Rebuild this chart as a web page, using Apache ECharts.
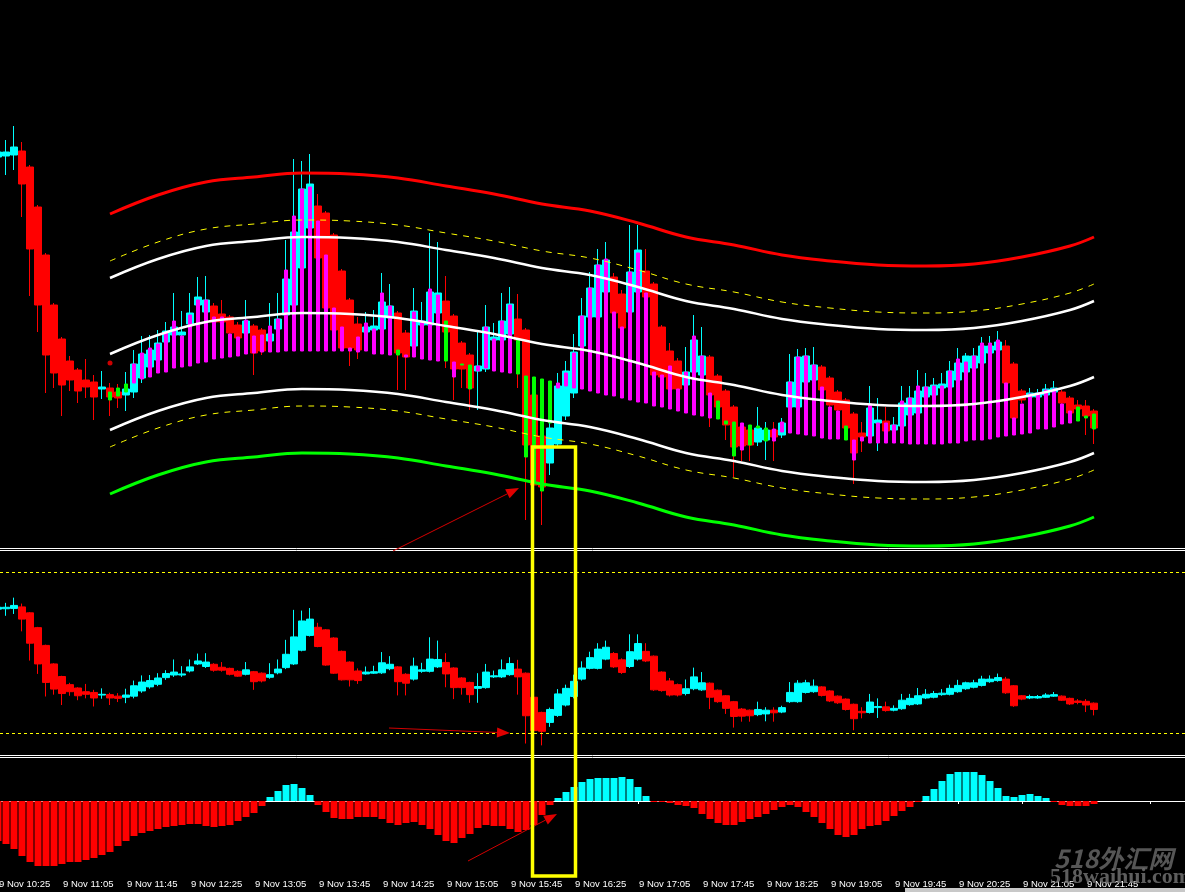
<!DOCTYPE html>
<html><head><meta charset="utf-8">
<script src="https://cdn.jsdelivr.net/npm/echarts/dist/echarts.min.js"></script>
<style>html,body{margin:0;padding:0;background:#000;overflow:hidden}#c{width:1185px;height:892px;}</style>
</head><body><div id="c"></div>
<script>
// ---------- DATA (price in points) ----------
const candleOpen  = [391,392,393,397,381,341,293,243,209,187,178,168,166,159,160,156,153,156,170,181,188,206,213,213,224,243,236,242,234,231,223,215,222,218,207,219,233,243,280,320,342,335,313,277,248,224,216,218,219,230,235,215,202,223,223,235,247,232,205,193,177,179,208,208,214,229,218,153,112,85,104,132,155,202,231,231,256,271,254,236,256,277,264,221,197,187,163,176,173,191,172,157,141,121,118,106,108,118,113,141,141,166,168,181,170,156,148,134,115,112,125,127,118,122,133,135,151,153,160,161,168,176,180,185,195,198,202,184,157,151,151,153,156,156,150,143,142,137];
const candleClose = [396,396,401,364,299,243,193,175,163,168,157,161,151,161,151,150,159,184,194,198,205,217,221,216,235,251,248,226,226,215,210,227,195,197,214,229,269,316,359,364,290,240,218,200,200,198,221,222,246,242,195,191,237,227,256,255,216,179,179,160,182,221,211,227,244,208,103,63,61,120,162,177,196,232,260,283,288,235,220,276,298,251,173,171,159,159,176,208,192,153,141,123,101,102,103,120,118,111,125,166,191,192,183,158,143,138,120,95,111,140,128,117,123,145,150,157,161,163,164,177,185,192,192,202,202,206,165,130,148,155,155,159,160,145,135,139,132,120];
const candleLow   = [388,373,378,331,252,216,155,160,132,157,145,150,128,149,132,140,137,150,165,176,183,200,208,208,220,240,232,222,222,212,208,212,173,193,203,215,229,240,277,317,288,238,216,198,182,189,214,216,216,226,158,158,198,219,220,232,180,148,160,138,138,176,205,205,211,160,28,23,23,73,100,128,150,198,228,228,253,232,216,232,252,248,170,168,155,155,158,172,170,121,138,108,71,87,87,102,88,87,110,138,138,163,165,155,140,135,117,64,96,109,97,114,115,119,130,132,148,150,157,158,165,173,177,182,192,195,162,127,145,148,149,151,154,143,132,134,113,104];
const candleHigh  = [400,408,422,406,383,343,295,245,211,192,180,189,173,177,165,164,176,198,212,213,218,226,255,237,255,271,272,245,248,233,226,248,224,220,245,255,308,389,387,394,354,337,315,279,250,231,236,238,275,264,237,218,260,246,315,306,272,234,207,195,218,243,225,255,261,254,220,155,114,125,175,187,214,250,276,299,306,275,258,323,323,299,266,223,205,190,201,233,221,193,174,159,143,124,120,141,126,126,130,194,199,200,201,183,172,158,150,136,126,162,150,141,131,162,162,178,175,170,175,187,200,195,200,211,212,217,208,186,159,160,159,164,167,158,152,148,148,139];

// Heiken-Ashi style overlay bars (first index 14): low, high, type (m = magenta, g = green)
const haStart = 14;
const haLow  = [148,152,156,165,169,171,175,176,180,181,182,185,186,189,190,191,192,194,195,196,196,196,197,197,197,197,197,197,197,197,197,196,197,194,194,193,193,191,191,189,188,187,187,171,183,159,177,180,177,176,175,174,91,65,57,125,160,162,160,159,157,155,153,152,150,148,146,145,142,141,139,137,135,133,132,130,129,124,92,98,103,120,107,107,116,115,114,113,112,110,109,109,108,88,107,105,105,105,105,105,104,104,104,104,104,105,105,107,108,108,109,111,112,113,114,115,119,119,121,124,125,127,130,119];
const haHigh = [156,160,164,184,195,200,204,215,227,212,233,248,248,231,231,214,211,228,212,213,222,229,278,332,359,361,327,293,240,221,200,211,225,219,255,242,198,193,236,227,259,253,227,186,184,183,182,221,209,227,243,208,172,171,169,167,165,175,195,232,260,283,289,236,221,276,295,255,176,173,182,159,176,212,192,155,147,127,126,125,123,122,120,119,126,166,191,192,183,161,141,137,122,108,111,144,125,125,123,147,150,162,161,162,162,177,189,186,192,205,205,208,165,130,144,154,155,158,159,144,137,141,132,134];
const haType = "gggmmmmmmmmmmmmmmmmmmmmmmmmmmmmmmmmmgmmmmmgmggmmmmmgggggmmmmmmmmmmmmmmmmmmmmgggmgggmmmmmmmmmgmmmmmmmmmmmmmmmmmmmmmmmmmmmmgg";

// envelope bands, read at these bar indexes
const bandIdx      = [14,20,26,32,38,44,50,56,62,68,74,80,86,92,98,104,110,116,122,128,134,137];
const bandUpperRed = [334,353,366,371,375,374,370,362,354,344,337,325,311,303,293,287,283,282,284,291,302,311];
const bandUpperYel = [287,306,319,324,328,327,323,315,307,297,290,278,264,256,246,240,236,235,237,244,255,264];
const bandUpperWht = [270,289,302,307,311,310,306,298,290,280,273,261,247,239,229,223,219,218,220,227,238,247];
const bandMid      = [194,213,226,231,235,234,230,222,214,204,197,185,171,163,153,147,143,142,144,151,162,171];
const bandLowerWht = [118,137,150,155,159,158,154,146,138,128,121,109,95,87,77,71,67,66,68,75,86,95];
const bandLowerYel = [101,120,133,138,142,141,137,129,121,111,104,92,78,70,60,54,50,49,51,58,69,78];
const bandLowerGrn = [54,73,86,91,95,94,90,82,74,64,57,45,31,23,13,7,3,2,4,11,22,31];
const startDot = [14, 185];

// oscillator histogram
const histogram = [-40,-43,-48,-55,-61,-65,-65,-65,-63,-61,-61,-59,-57,-54,-51,-45,-40,-35,-32,-30,-28,-26,-25,-24,-23,-23,-25,-26,-25,-24,-20,-16,-12,-5,4,10,16,17,13,6,-4,-11,-17,-18,-18,-16,-16,-16,-18,-22,-24,-22,-21,-24,-28,-34,-40,-42,-37,-33,-27,-24,-25,-25,-28,-31,-29,-24,-14,-4,3,9,14,19,22,23,23,23,24,22,14,5,-1,-1,-2,-4,-5,-7,-13,-18,-22,-24,-24,-21,-18,-16,-13,-9,-6,-4,-6,-11,-16,-22,-28,-34,-36,-34,-28,-25,-24,-20,-15,-10,-6,-1,5,12,20,27,29,29,29,26,20,13,5,4,6,7,5,3,-1,-4,-5,-5,-5,-3];

// levels in price subwindow
const subLevels = [491, 56];

// time axis: 5-minute bars from 9 Nov 10:25
const startMinutes = 10*60+25, barCount = 149;
const categories = [];
for (let i = 0; i < barCount; i++) {
  const m = startMinutes + 5*i;
  const hh = String(Math.floor(m/60)).padStart(2,'0'), mm = String(m%60).padStart(2,'0');
  categories.push('9 Nov ' + hh + ':' + mm);
}

// ---------- BUILD ----------
const candles = candleOpen.map((o,i)=>[o, candleClose[i], candleLow[i], candleHigh[i]]);
const haM = [], haG = [];
for (let i = 0; i < candleOpen.length; i++) {
  const k = i - haStart;
  if (k < 0 || k >= haLow.length) { haM.push('-'); haG.push('-'); continue; }
  const v = [haLow[k], haHigh[k], haLow[k], haHigh[k]];
  if (haType[k] === 'm') { haM.push(v); haG.push('-'); } else { haG.push(v); haM.push('-'); }
}
function bandSeries(vals) {
  const arr = new Array(barCount).fill(null);
  bandIdx.forEach((b,j)=>{ arr[b] = vals[j]; });
  return arr;
}
function lineS(vals, color, width, dash) {
  return { type:'line', xAxisIndex:0, yAxisIndex:0, data: bandSeries(vals), connectNulls:true, smooth:0.4,
    symbol:'none', silent:true, z:5,
    lineStyle:{ color:color, width:width, type: dash ? [6,6] : 'solid' } };
}
const dotData = new Array(barCount).fill(null); dotData[startDot[0]] = startDot[1];

function arrowEls(x1,y1,x2,y2){
  const a=Math.atan2(y2-y1,x2-x1), L=13, W=5;
  const bx=x2-L*Math.cos(a), by=y2-L*Math.sin(a);
  const px=-Math.sin(a)*W, py=Math.cos(a)*W;
  return [
    {type:'line', z:100, shape:{x1:x1,y1:y1,x2:bx,y2:by}, style:{stroke:'#d40000', lineWidth:1}},
    {type:'polygon', z:100, shape:{points:[[x2,y2],[bx+px,by+py],[bx-px,by-py]]}, style:{fill:'#e00000'}}
  ];
}

const xBase = { type:'category', data:categories, boundaryGap:true, show:false };
const chart = echarts.init(document.getElementById('c'), null, {renderer:'canvas'});
const gridLeft = -6, gridWidth = barCount*8;
const gBase = {left:gridLeft, width:gridWidth, containLabel:false, outerBoundsMode:'none'};
chart.setOption({
  backgroundColor:'#000000',
  animation:false,
  grid:[
    Object.assign({}, gBase, {top:0, height:548}),
    Object.assign({}, gBase, {top:551, height:204}),
    Object.assign({}, gBase, {top:758, height:116})
  ],
  xAxis:[
    Object.assign({}, xBase, {gridIndex:0}),
    Object.assign({}, xBase, {gridIndex:1}),
    { type:'category', gridIndex:2, data:categories, boundaryGap:true, show:true,
      axisLine:{show:true, lineStyle:{color:'#ffffff', width:1}},
      axisTick:{show:true, alignWithLabel:true, interval:(i)=> i%8===0, length:3, lineStyle:{color:'#ffffff'}},
      axisLabel:{show:true, interval:(i)=> i%8===0 && i<=136, align:'left', color:'#ffffff',
        fontSize:9.5, fontFamily:'Liberation Sans', margin:5, padding:[0,0,0,1], hideOverlap:false},
      splitLine:{show:false} }
  ],
  yAxis:[
    {type:'value', gridIndex:0, min:0, max:548, show:false, splitLine:{show:false}},
    {type:'value', gridIndex:1, min:-3, max:548, show:false, splitLine:{show:false}},
    {type:'value', gridIndex:2, min:-73, max:43, show:false, splitLine:{show:false}}
  ],
  series:[
    { type:'candlestick', name:'price', xAxisIndex:0, yAxisIndex:0, data:candles, barWidth:7, z:2,
      itemStyle:{color:'#00ffff', color0:'#ff0000', borderColor:'#00ffff', borderColor0:'#ff0000', borderWidth:1} },
    { type:'candlestick', name:'ha up', xAxisIndex:0, yAxisIndex:0, data:haM, barWidth:4, z:3,
      itemStyle:{color:'#ff00ff', color0:'#ff00ff', borderColor:'#ff00ff', borderColor0:'#ff00ff', borderWidth:1} },
    { type:'candlestick', name:'ha down', xAxisIndex:0, yAxisIndex:0, data:haG, barWidth:4, z:3,
      itemStyle:{color:'#00ff00', color0:'#00ff00', borderColor:'#00ff00', borderColor0:'#00ff00', borderWidth:1} },
    lineS(bandUpperRed, '#ff0000', 3, false),
    lineS(bandUpperYel, '#ffff00', 1, true),
    lineS(bandUpperWht, '#ffffff', 2.5, false),
    lineS(bandMid, '#ffffff', 2.5, false),
    lineS(bandLowerWht, '#ffffff', 2.5, false),
    lineS(bandLowerYel, '#ffff00', 1, true),
    lineS(bandLowerGrn, '#00ff00', 3, false),
    { type:'scatter', xAxisIndex:0, yAxisIndex:0, data:dotData, symbolSize:5, itemStyle:{color:'#ff0000'}, z:6 },
    { type:'candlestick', name:'price sub', xAxisIndex:1, yAxisIndex:1, data:candles, barWidth:7, z:2,
      itemStyle:{color:'#00ffff', color0:'#ff0000', borderColor:'#00ffff', borderColor0:'#ff0000', borderWidth:1},
      markLine:{ silent:true, symbol:['none','none'], label:{show:false},
        lineStyle:{color:'#ffff00', width:1, type:[3,3]},
        data: subLevels.map(v=>({yAxis:v})) } },
    { type:'bar', name:'osc', xAxisIndex:2, yAxisIndex:2, data:histogram, barWidth:7,
      itemStyle:{ color:(p)=> p.value >= 0 ? '#00ffff' : '#ff0000' } }
  ],
  graphic:[
    {type:'line', z:50, shape:{x1:0,y1:548.5,x2:1185,y2:548.5}, style:{stroke:'#ffffff', lineWidth:1}},
    {type:'line', z:50, shape:{x1:0,y1:550.5,x2:1185,y2:550.5}, style:{stroke:'#ffffff', lineWidth:1}},
    {type:'line', z:50, shape:{x1:0,y1:755.5,x2:1185,y2:755.5}, style:{stroke:'#ffffff', lineWidth:1}},
    {type:'line', z:50, shape:{x1:0,y1:757.5,x2:1185,y2:757.5}, style:{stroke:'#ffffff', lineWidth:1}},
    ...arrowEls(393,551,519,488),
    ...arrowEls(389,728,510,733),
    ...arrowEls(468,861,557,814),
    {type:'rect', z:110, shape:{x:532.5, y:447, width:43, height:429}, style:{fill:'none', stroke:'#ffff00', lineWidth:3.5}},
    {type:'text', z:120, x:1054, y:846, style:{text:'518外汇网', font:'italic bold 25px "Noto Sans CJK SC"', fill:'rgba(95,95,95,0.9)'}},
    {type:'text', z:120, x:1050, y:866, style:{text:'518waihui.com', font:'bold 22px "Liberation Serif"', fill:'rgba(110,110,110,0.85)'}},
    {type:'rect', z:120, shape:{x:905, y:888, width:280, height:4}, style:{fill:'#c8c8c8'}}
  ]
});
</script></body></html>
